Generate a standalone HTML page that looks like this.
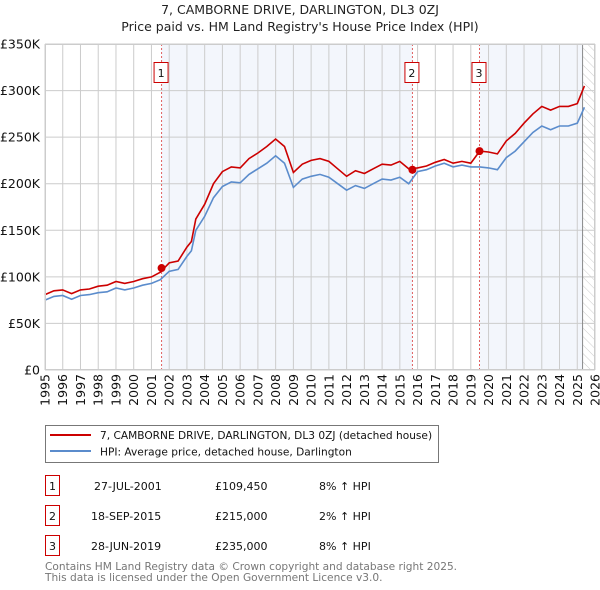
<!DOCTYPE html>
<html><head><meta charset="utf-8">
<style>
body{margin:0;background:#fff;font-family:"DejaVu Sans","Liberation Sans",sans-serif;}
svg{display:block}
</style></head>
<body>
<svg id="chart" width="600" height="590" viewBox="0 0 600 590" xmlns="http://www.w3.org/2000/svg" font-family="DejaVu Sans, Liberation Sans, sans-serif">
<defs>
<pattern id="hatch" width="6" height="6" patternUnits="userSpaceOnUse" patternTransform="rotate(-45)">
<line x1="0" y1="0" x2="0" y2="6" stroke="#ccc" stroke-width="1"/>
</pattern>
</defs>
<text x="300" y="14" text-anchor="middle" font-size="12.5" fill="#222">7, CAMBORNE DRIVE, DARLINGTON, DL3 0ZJ</text>
<text x="300" y="31" text-anchor="middle" font-size="12.5" fill="#222">Price paid vs. HM Land Registry's House Price Index (HPI)</text>
<g id="plot"></g>
<g>
<rect x="45.5" y="425.5" width="393" height="37" fill="#fff" stroke="#777"/>
<line x1="50" y1="435" x2="91" y2="435" stroke="#cc0000" stroke-width="2"/>
<text x="100" y="439" font-size="10.6" fill="#111">7, CAMBORNE DRIVE, DARLINGTON, DL3 0ZJ (detached house)</text>
<line x1="50" y1="451" x2="91" y2="451" stroke="#5b8ccc" stroke-width="2"/>
<text x="100" y="455.5" font-size="10.6" fill="#111">HPI: Average price, detached house, Darlington</text>
</g>
<g font-size="11" fill="#111">
<rect x="45.5" y="475.5" width="14" height="20" fill="#fff" stroke="#cc0000"/>
<text x="52.5" y="490" text-anchor="middle">1</text>
<text x="94" y="490">27-JUL-2001</text>
<text x="215" y="490">£109,450</text>
<text x="319" y="490">8% ↑ HPI</text>
<rect x="45.5" y="505.5" width="14" height="20" fill="#fff" stroke="#cc0000"/>
<text x="52.5" y="520" text-anchor="middle">2</text>
<text x="91" y="520">18-SEP-2015</text>
<text x="215" y="520">£215,000</text>
<text x="319" y="520">2% ↑ HPI</text>
<rect x="45.5" y="535.5" width="14" height="20" fill="#fff" stroke="#cc0000"/>
<text x="52.5" y="550" text-anchor="middle">3</text>
<text x="91" y="550">28-JUN-2019</text>
<text x="215" y="550">£235,000</text>
<text x="319" y="550">8% ↑ HPI</text>
</g>
<text x="45" y="570" font-size="10.6" fill="#777">Contains HM Land Registry data © Crown copyright and database right 2025.</text>
<text x="45" y="581" font-size="10.6" fill="#777">This data is licensed under the Open Government Licence v3.0.</text>
</svg>
<script>
const years = [1995,1995.5,1996,1996.5,1997,1997.5,1998,1998.5,1999,1999.5,2000,2000.5,2001,2001.5,2002,2002.5,2003,2003.25,2003.5,2004,2004.5,2005,2005.5,2006,2006.5,2007,2007.5,2008,2008.5,2009,2009.5,2010,2010.5,2011,2011.5,2012,2012.5,2013,2013.5,2014,2014.5,2015,2015.5,2016,2016.5,2017,2017.5,2018,2018.5,2019,2019.5,2020,2020.5,2021,2021.5,2022,2022.5,2023,2023.5,2024,2024.5,2025,2025.4];
const hpiValues = [75,79,80,76,80,81,83,84,88,86,88,91,93,97,106,108,122,128,150,165,185,197,202,201,210,216,222,230,222,196,205,208,210,207,200,193,198,195,200,205,204,207,200,213,215,219,222,218,220,218,218,217,215,228,235,245,255,262,258,262,262,265,282];
const propertyValues = [81,85,86,82,86,87,90,91,95,93,95,98,100,105,115,117,132,138,162,178,200,213,218,217,227,233,240,248,240,212,221,225,227,224,216,208,214,211,216,221,220,224,216,217,219,223,226,222,224,222,235,234,232,246,254,265,275,283,279,283,283,286,305];
const saleYears = [2001.57,2015.71,2019.49];
const salePrices = [109.45,215,235];
const saleLabels = ["1","2","3"];
const yTicks = [0,50,100,150,200,250,300,350];
const yTickLabels = ["£0","£50K","£100K","£150K","£200K","£250K","£300K","£350K"];
const xTicks = [1995,1996,1997,1998,1999,2000,2001,2002,2003,2004,2005,2006,2007,2008,2009,2010,2011,2012,2013,2014,2015,2016,2017,2018,2019,2020,2021,2022,2023,2024,2025,2026];

const NS="http://www.w3.org/2000/svg";
const X0=45,X1=595,Y0=370,Y1=44;
const xs=y=>X0+(y-1995)/(2026-1995)*(X1-X0);
const ys=v=>Y0-v/350*(Y0-Y1);
const g=document.getElementById('plot');
function mk(t,a){const e=document.createElementNS(NS,t);for(const k in a)e.setAttribute(k,a[k]);g.appendChild(e);return e;}
let e;
e=mk('rect',{x:xs(saleYears[0]),y:Y1,width:xs(saleYears[1])-xs(saleYears[0]),height:Y0-Y1,fill:'#eef2fb',opacity:0.7});


e=mk('rect',{x:xs(saleYears[2]),y:Y1,width:xs(2025.3)-xs(saleYears[2]),height:Y0-Y1,fill:'#eef2fb',opacity:0.7});


e=mk('rect',{x:xs(2025.3),y:Y1,width:X1-xs(2025.3),height:Y0-Y1,fill:'url(#hatch)'});


xTicks.forEach(t=>{
 e=mk('line',{x1:xs(t),x2:xs(t),y1:Y1,y2:Y0,stroke:'#ccc','stroke-width':1});
 
 
 e=mk('text',{x:0,y:0,'font-size':12.5,fill:'#111','text-anchor':'end',transform:`translate(${xs(t)+4.5},374) rotate(-90)`});
 e.textContent=t;
 
 
});
yTicks.forEach((t,i)=>{
 e=mk('line',{x1:X0,x2:X1,y1:ys(t),y2:ys(t),stroke:'#ccc','stroke-width':1});
 
 
 e=mk('text',{x:40,y:ys(t)+4.5,'font-size':12.5,fill:'#111','text-anchor':'end'});
 e.textContent=yTickLabels[i];
 
 
});
e=mk('line',{x1:xs(2025.3),x2:xs(2025.3),y1:Y1,y2:Y0,stroke:'#888','stroke-width':1});


saleYears.forEach((s,i)=>{
 e=mk('line',{x1:xs(s),x2:xs(s),y1:Y1,y2:Y0,stroke:'#e06060','stroke-width':1,'stroke-dasharray':'2,2'});
 
 
});
const pts=(arr)=>years.map((y,i)=>xs(y).toFixed(1)+','+ys(arr[i]).toFixed(1)).join(' ');
e=mk('polyline',{points:pts(hpiValues),fill:'none',stroke:'#5b8ccc','stroke-width':1.6});


e=mk('polyline',{points:pts(propertyValues),fill:'none',stroke:'#cc0000','stroke-width':1.6});


saleYears.forEach((s,i)=>{
 e=mk('circle',{cx:xs(s),cy:ys(salePrices[i]),r:4,fill:'#cc0000'});
 
 
 e=mk('rect',{x:xs(s)-7.5,y:62.5,width:14,height:20,fill:'#fff',stroke:'#cc0000'});
 
 
 e=mk('text',{x:xs(s)-0.5,y:77,'font-size':11,'text-anchor':'middle',fill:'#111'});
 e.textContent=saleLabels[i];
 
 
});
e=mk('rect',{x:X0+0.5,y:Y1+0.5,width:X1-X0-1,height:Y0-Y1-1,fill:'none',stroke:'#ccc'});


</script>
</body></html>
